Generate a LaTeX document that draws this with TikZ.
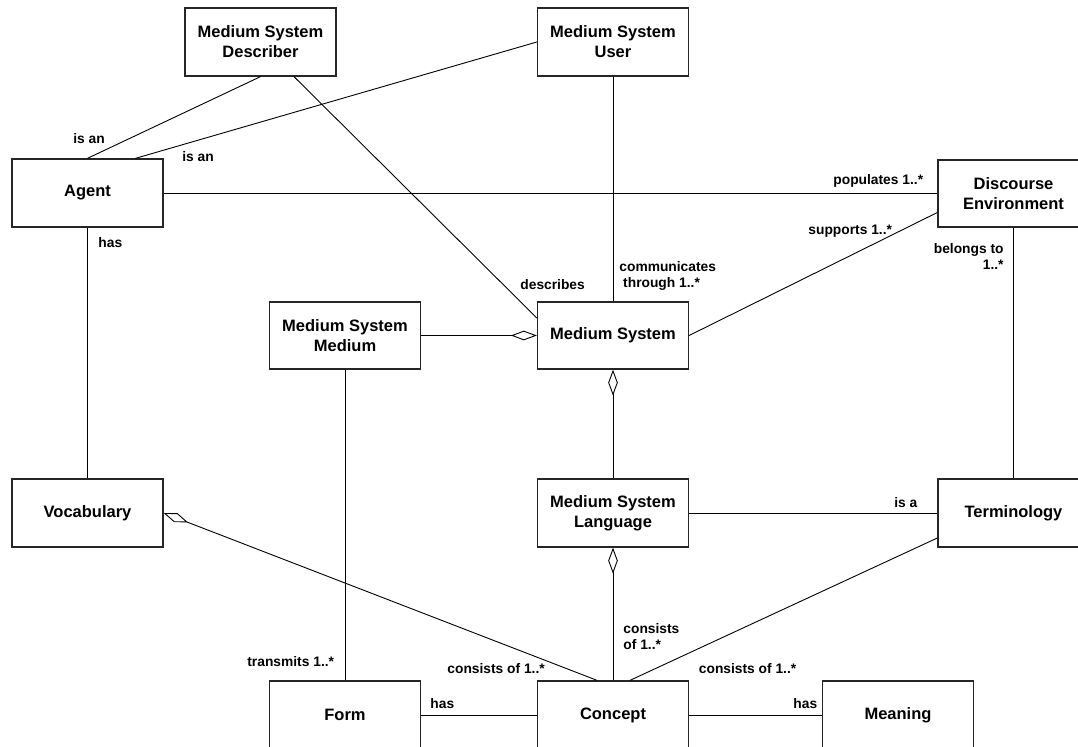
\documentclass[tikz,border=0pt]{standalone}
\usepackage{fontspec}
\setmainfont{Liberation Sans}
\usetikzlibrary{arrows.meta}
\begin{document}
\begin{tikzpicture}[x=0.5pt,y=-0.5pt,
  cls/.style={draw=black!85, line width=0.65pt, fill=white,
    minimum width=75.5pt, minimum height=34pt, inner sep=1pt,
    align=center, font=\fontsize{8.25}{10}\selectfont\bfseries},
  assoc/.style={draw=black, line width=0.45pt},
  agg/.style={assoc, {Diamond[open,length=13pt,width=4.8pt]}-},
  lbl/.style={inner sep=0pt, font=\fontsize{6.9}{8}\selectfont\bfseries},
]
\useasboundingbox (0,0) rectangle (1078,747);
\clip (0,0) rectangle (1078,747);

% classes
\node[cls] (desc)    at (260.5,42)   {Medium System\\Describer};
\node[cls] (user)    at (613,42)     {Medium System\\User};
\node[cls] (agent)   at (87.5,193)   {Agent};
\node[cls, minimum height=33.5pt] (disc) at (1013.5,193.5) {Discourse\\Environment};
\node[cls, minimum height=33.5pt] (msm)  at (345,335.5)    {Medium System\\Medium};
\node[cls, minimum height=33.5pt] (ms)   at (613,335.5)    {Medium System};
\node[cls] (voc)     at (87.5,513)   {Vocabulary};
\node[cls] (msl)     at (613,513)    {Medium System\\Language};
\node[cls] (term)    at (1013.5,513) {Terminology};
\node[cls] (form)    at (345,715)    {Form};
\node[cls] (concept) at (613,715)    {Concept};
\node[cls] (meaning) at (898,715)    {Meaning};

% associations
\draw[assoc] (desc.south) -- (agent.north);
\draw[assoc] (user.west) -- ([xshift=24pt]agent.north);
\draw[assoc] ([xshift=16.75pt]desc.south) -- ([yshift=8.75pt]ms.west);
\draw[assoc] (agent.east) -- (disc.west |- agent.east);
\draw[assoc] (user.south) -- (ms.north);
\draw[assoc] ([yshift=-9.5pt]disc.west) -- (ms.east);
\draw[assoc] (disc.south) -- (term.north);
\draw[assoc] (agent.south) -- (voc.north);
\draw[assoc] (msl.east) -- (term.west);
\draw[assoc] ([yshift=-12.5pt]term.west) -- ([xshift=8.5pt]concept.north);
\draw[assoc] (msm.south) -- (form.north);
\draw[assoc] (form.east) -- (concept.west);
\draw[assoc] (concept.east) -- (meaning.west);

% aggregations
\draw[agg] (ms.west) -- (msm.east);
\draw[agg] (ms.south) -- (msl.north);
\draw[agg] (msl.south) -- (concept.north);
\draw[agg] (voc.east) -- ([xshift=-8pt]concept.north);

% role labels
\node[lbl, anchor=base west] (l1)  at (73,144)   {is an};
\node[lbl, anchor=base west] (l2)  at (182,162)  {is an};
\node[lbl, anchor=base west] (l3)  at (98,248)   {has};
\node[lbl, anchor=base west] (l4)  at (520,290)  {describes};
\node[lbl, anchor=base west] (l5a) at (619,272)  {communicates};
\node[lbl, anchor=base west] (l5b) at (619,288)  {\ through 1..*};
\node[lbl, anchor=base west] (l6)  at (833,185)  {populates 1..*};
\node[lbl, anchor=base west] (l7)  at (808,235)  {supports 1..*};
\node[lbl, anchor=base east] (l8a) at (1004,254) {belongs to};
\node[lbl, anchor=base east] (l8b) at (1004,270) {1..*};
\node[lbl, anchor=base west] (l9)  at (894,508)  {is a};
\node[lbl, anchor=base west] (l10a) at (623,634) {consists};
\node[lbl, anchor=base west] (l10b) at (623,650) {of 1..*};
\node[lbl, anchor=base west] (l11) at (698.5,674) {consists of 1..*};
\node[lbl, anchor=base west] (l12) at (447,674)  {consists of 1..*};
\node[lbl, anchor=base west] (l13) at (793,709)  {has};
\node[lbl, anchor=base west] (l14) at (430,709)  {has};
\node[lbl, anchor=base west] (l15) at (247,667)  {transmits 1..*};
\end{tikzpicture}
\end{document}
